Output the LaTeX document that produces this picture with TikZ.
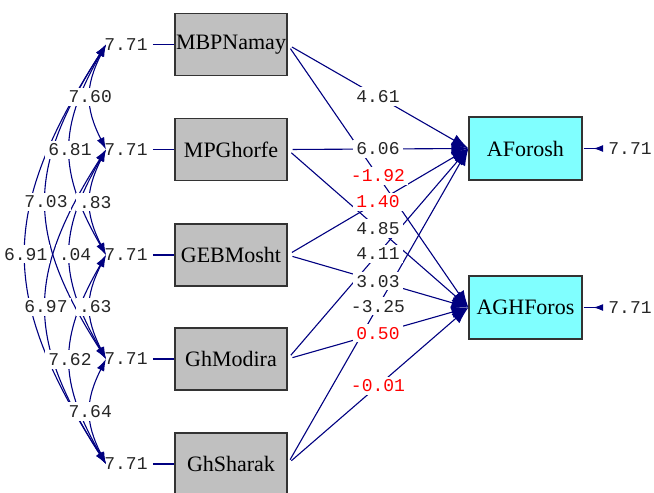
\documentclass[tikz,border=0pt]{standalone}
\usepackage{fontspec}
\setmainfont{Liberation Serif}
\newfontfamily\monofont{Liberation Mono}
\usetikzlibrary{arrows.meta,calc}
\definecolor{navy}{RGB}{0,0,128}
\definecolor{boxgray}{RGB}{192,192,192}
\definecolor{boxcyan}{RGB}{128,255,255}
\definecolor{valred}{RGB}{255,0,0}
\tikzset{
  obsbox/.style={draw=black!80, line width=1.2pt, fill=boxgray, minimum width=112pt, minimum height=62pt, inner sep=0pt, font=\fontsize{22}{24}\selectfont},
  endobox/.style={obsbox, fill=boxcyan, minimum width=113pt, minimum height=63pt},
  errlbl/.style={font=\monofont\fontsize{18}{20}\selectfont, text=black!85, inner sep=0pt},
  val/.style={font=\monofont\fontsize{18}{20}\selectfont, fill=white, inner sep=3pt, text=black!85},
  redval/.style={val, text=valred},
  link/.style={draw=navy, line width=1.1pt},
  pathar/.style={link, -{Latex[length=17pt,width=12pt]}, shorten <=5pt},
  covar/.style={link, {Latex[length=12pt,width=8pt]}-{Latex[length=12pt,width=8pt]}},
  errar/.style={link, shorten <=1pt, shorten >=5pt, -{Latex[reversed,length=10pt,width=7pt]}},
}
\newcommand\covline[3]{\draw[covar] (c#1) .. controls ($(c#1)!0.4!(c#2)+(-#3,0)$) and ($(c#2)!0.4!(c#1)+(-#3,0)$) .. (c#2);}
\newcommand\covlabel[5]{\path (c#1) .. controls ($(c#1)!0.4!(c#2)+(-#3,0)$) and ($(c#2)!0.4!(c#1)+(-#3,0)$) .. (c#2) node[val,pos=.5,#5] (l#1#2) {#4};}
\begin{document}
\begin{tikzpicture}[x=1pt,y=-1pt]
\useasboundingbox (0,0) rectangle (654,493);
% observed exogenous boxes
\node[obsbox] (b1) at (231,44.5) {MBPNamay};
\node[obsbox] (b2) at (231,149.5) {MPGhorfe};
\node[obsbox] (b3) at (231,255) {GEBMosht};
\node[obsbox] (b4) at (231,359) {GhModira};
\node[obsbox] (b5) at (231,464) {GhSharak};
% endogenous boxes
\node[endobox] (af) at (525.5,148.5) {AForosh};
\node[endobox] (ag) at (525.5,307.5) {AGHForos};
% left error labels
\foreach \i/\y in {1/44.5,2/149.5,3/255,4/359,5/464}{
  \node[errlbl] (e\i) at (126,\y) {7.71};
  \draw[link, shorten <=5pt] (e\i) -- (b\i);
  \coordinate (c\i) at (106,\y);
}
% right errors
\node[errlbl] (ea) at (630,148.5) {7.71};
\node[errlbl] (eb) at (630,307.5) {7.71};
\draw[errar] (af.east) -- (ea.west);
\draw[errar] (ag.east) -- (eb.west);
% structural paths
\foreach \b in {b1,b2,b3,b4,b5}{
  \draw[pathar] (\b.east) -- (af.west);
  \draw[pathar] (\b.east) -- (ag.west);
}
% covariance curves
\covline{1}{2}{21}
\covline{2}{3}{21}
\covline{3}{4}{21}
\covline{4}{5}{21}
\covline{1}{3}{48}
\covline{2}{4}{48}
\covline{3}{5}{48}
\covline{1}{4}{80}
\covline{2}{5}{80}
\covline{1}{5}{107}
% covariance labels
\covlabel{1}{2}{21}{7.60}{}
\covlabel{2}{3}{21}{.83}{xshift=5pt}
\covlabel{3}{4}{21}{.63}{xshift=5pt}
\covlabel{4}{5}{21}{7.64}{}
\covlabel{1}{3}{48}{6.81}{}
\covlabel{2}{4}{48}{.04}{xshift=5pt}
\covlabel{3}{5}{48}{7.62}{}
\covlabel{1}{4}{80}{7.03}{}
\covlabel{2}{5}{80}{6.97}{}
\covlabel{1}{5}{107}{6.91}{}
% path labels
\path (b1.east) -- (af.west) node[val,pos=.5] (p1a) {4.61};
\path (b1.east) -- (ag.west) node[redval,pos=.5] (p1b) {-1.92};
\path (b2.east) -- (af.west) node[val,pos=.5] (p2a) {6.06};
\path (b2.east) -- (ag.west) node[val,pos=.5] (p2b) {4.85};
\path (b3.east) -- (af.west) node[redval,pos=.5] (p3a) {1.40};
\path (b3.east) -- (ag.west) node[val,pos=.5] (p3b) {3.03};
\path (b4.east) -- (af.west) node[val,pos=.5] (p4a) {4.11};
\path (b4.east) -- (ag.west) node[redval,pos=.5] (p4b) {0.50};
\path (b5.east) -- (af.west) node[val,pos=.5] (p5a) {-3.25};
\path (b5.east) -- (ag.west) node[redval,pos=.5] (p5b) {-0.01};
\end{tikzpicture}
\end{document}
